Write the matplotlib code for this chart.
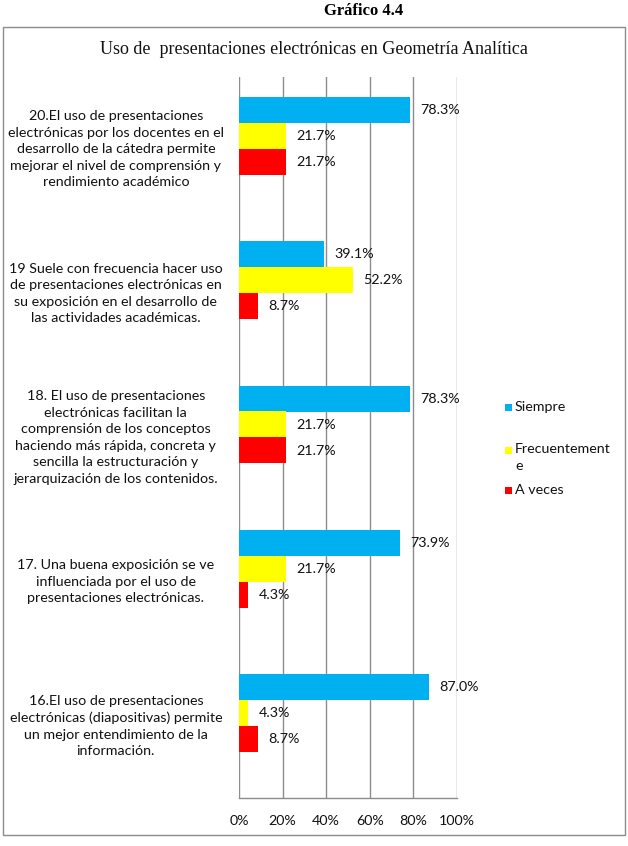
import matplotlib
matplotlib.use("Agg")
import matplotlib.pyplot as plt
from matplotlib.patches import Rectangle
import numpy as np

categories = [
    "20.El uso de presentaciones\nelectrónicas por los docentes en el\ndesarrollo de la cátedra permite\nmejorar el nivel de comprensión y\nrendimiento académico",
    "19 Suele con frecuencia hacer uso\nde presentaciones electrónicas en\nsu exposición en el desarrollo de\nlas actividades académicas.",
    "18. El uso de presentaciones\nelectrónicas facilitan la\ncomprensión de los conceptos\nhaciendo más rápida, concreta y\nsencilla la estructuración y\njerarquización de los contenidos.",
    "17. Una buena exposición se ve\ninfluenciada por el uso de\npresentaciones electrónicas.",
    "16.El uso de presentaciones\nelectrónicas (diapositivas) permite\nun mejor entendimiento de la\ninformación.",
]
series_names = ["Siempre", "Frecuentement\ne", "A veces"]
siempre = [78.3, 39.1, 78.3, 73.9, 87.0]
frecuentemente = [21.7, 52.2, 21.7, 21.7, 4.3]
a_veces = [21.7, 8.7, 21.7, 4.3, 8.7]
xticks = [0, 20, 40, 60, 80, 100]
xtick_labels = ["0%", "20%", "40%", "60%", "80%", "100%"]
colors = ["#00B0F0", "#FFFF00", "#FF0000"]

W, H = 628, 846
fig = plt.figure(figsize=(W / 100, H / 100), dpi=100)
fig.patch.set_facecolor("white")

def fx(px):
    return px / W

def fy(py):
    return 1 - py / H

sans = ["Lato", "DejaVu Sans"]
serif = ["Liberation Serif", "DejaVu Serif"]
txtc = "#111111"
fs = 10.3

# outer chart box
fig.patches.append(Rectangle((fx(3), fy(835)), fx(625) - fx(3), fy(27) - fy(835),
                             transform=fig.transFigure, fill=False,
                             edgecolor="#8c8c8c", linewidth=1.0))

fig.text(fx(364), fy(11), "Gráfico 4.4", ha="center", va="center",
         family=serif, fontweight="bold", fontsize=12, color="black")
fig.text(fx(314), fy(50), "Uso de  presentaciones electrónicas en Geometría Analítica",
         ha="center", va="center", family=serif, fontsize=13, color=txtc)

ax = fig.add_axes([fx(239), fy(798), fx(457) - fx(239), fy(77) - fy(798)])
ax.set_xlim(0, 100)
ax.set_ylim(len(categories) - 0.5, -0.5)
for s in ["top", "right", "left"]:
    ax.spines[s].set_visible(False)
ax.spines["bottom"].set_color("#8c8c8c")
ax.spines["bottom"].set_linewidth(1.0)
for x in xticks:
    ax.axvline(x, color="#8c8c8c", linewidth=1.0, zorder=0)

ax.set_xticks(xticks)
ax.set_xticklabels(xtick_labels, family=sans, fontsize=fs, color=txtc)
ax.tick_params(axis="x", length=0, pad=12)
ax.set_yticks([])

h = 26 / 144.2
ypos = np.arange(len(categories))
data = [siempre, frecuentemente, a_veces]
for j, (vals, c) in enumerate(zip(data, colors)):
    yy = ypos + (j - 1.5) * h
    ax.barh(yy, vals, height=h, color=c, edgecolor="none", zorder=2)
    for y, v in zip(yy, vals):
        ax.annotate(f"{v:.1f}%", (v, y), xytext=(7.5, 0), textcoords="offset points",
                    ha="left", va="center", family=sans, fontsize=fs, color=txtc)

for y, lab in zip(ypos, categories):
    ax.text(-56.5, y, lab, ha="center", va="center", multialignment="center",
            family=sans, fontsize=fs, color=txtc, linespacing=1.45,
            transform=ax.transData, clip_on=False)

# legend
leg_y = [407, 451, 490]
for name, c, py in zip(series_names, colors, leg_y):
    fig.patches.append(Rectangle((fx(505), fy(py + 3.5)), fx(7), 7 / H,
                                 transform=fig.transFigure, facecolor=c, edgecolor="none"))
    fig.text(fx(515), fy(py), name, ha="left", va="baseline" if False else "center",
             family=sans, fontsize=fs, color=txtc, linespacing=1.45,
             ) if "\n" not in name else fig.text(fx(515), fy(py - 8), name, ha="left", va="top",
             family=sans, fontsize=fs, color=txtc, linespacing=1.45)

fig.savefig("out.png", dpi=100)
